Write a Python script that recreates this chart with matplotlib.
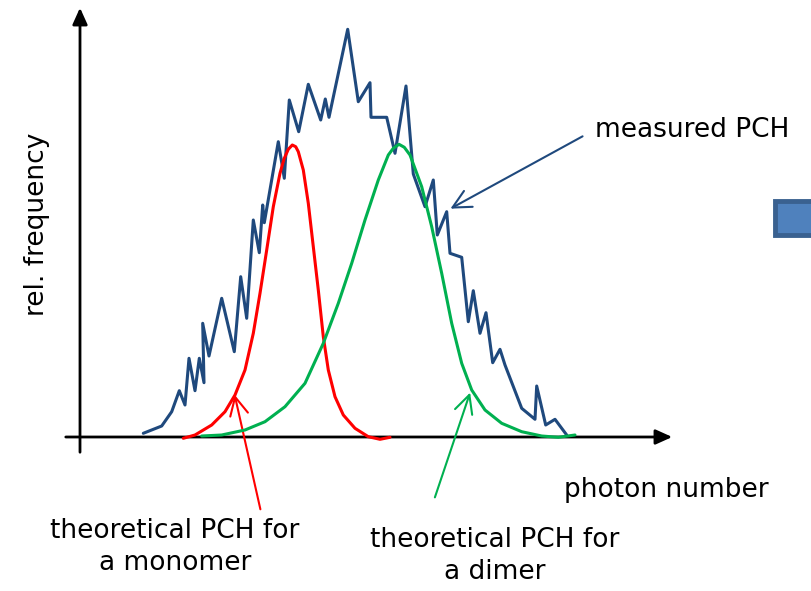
import matplotlib
matplotlib.use("Agg")
import matplotlib.pyplot as plt
from matplotlib.patches import Rectangle

# photon number (x) / rel. frequency (y), origin at the axis crossing
measured_x = [63.3, 81.7, 91.7, 99.3, 105, 109, 115, 119.3, 124, 122.7, 129, 141.7, 154.3,
              160.7, 166.7, 173.3, 179.3, 182.7, 184.3, 198.3, 204.3, 209.3, 218.7, 228.3,
              240.7, 245.3, 249, 267.7, 278.3, 290, 291, 306.7, 315, 326, 333.3, 345,
              353.3, 357.3, 366.7, 370, 381.7, 388.3, 393.3, 400, 406, 412.7, 420, 425,
              441.7, 455, 456.7, 465.7, 475, 486.7]
measured_y = [3.7, 11, 25.3, 46.3, 32, 78.7, 46.3, 78.7, 54.3, 113.7, 81, 138.7, 85.3,
              160.3, 118.7, 217, 184.3, 232, 214.3, 295.3, 258.7, 337, 305.3, 352.7,
              317, 338, 319.7, 407.7, 335.3, 354.3, 319.7, 319.7, 283.7, 351, 263, 230.3,
              257, 202, 225.3, 183.7, 179.7, 115.3, 146.3, 103.7, 124.3, 74.3, 87.7, 72,
              28.7, 17.7, 51, 12, 17.7, 2]

monomer_x = [103.3, 115, 131.7, 145, 155, 165, 173.3, 180, 186.7, 193.3, 200, 204, 208.3,
             212.3, 215.7, 218.3, 223.3, 228.3, 233.3, 238.3, 243.3, 248.3, 255, 263.3,
             275, 288.3, 300, 310]
monomer_y = [-1.3, 2, 12, 25.3, 42, 67, 103.7, 143.7, 187, 230.3, 263.7, 278, 287.7,
             292, 290.3, 285.3, 267, 233.7, 190.3, 147, 100.3, 67, 40.3, 22,
             8.7, 0.3, -2.3, -0.3]

dimer_x = [121.7, 141.7, 165, 185, 205, 225, 243.3, 258.3, 271.7, 285, 298.3, 308.3, 313.3,
           319, 324.3, 330, 341.7, 351.7, 361.7, 371.7, 381.7, 391.7, 405, 421.7, 441.7,
           461.7, 478.3, 495]
dimer_y = [1, 2, 7, 15.3, 30.3, 53.7, 93.7, 133.7, 173.7, 217, 257, 282, 288.7,
           292.7, 289.7, 282, 250.3, 210.3, 163.7, 113.7, 73.7, 47, 27, 13.7, 5.3,
           1, -0.3, 2]

plt.rcParams['font.family'] = ['DejaVu Sans']

fig = plt.figure(figsize=(8.12, 5.91), dpi=100)
ax = fig.add_axes([0, 0, 1, 1])
ax.set_xlim(-80, 732)
ax.set_ylim(-154, 437)
ax.axis('off')

# axes with arrow heads
ax.annotate("", xy=(0, 432), xytext=(0, -18),
            arrowprops=dict(arrowstyle="-|>,head_length=1.0,head_width=0.45", color="black", lw=2))
ax.annotate("", xy=(595, 0), xytext=(-17, 0),
            arrowprops=dict(arrowstyle="-|>,head_length=1.0,head_width=0.45", color="black", lw=2))

line_kw = dict(lw=2.2, solid_joinstyle="round", solid_capstyle="round")
ax.plot(measured_x, measured_y, color="#1f497d", zorder=3, **line_kw)
ax.plot(monomer_x, monomer_y, color="#ff0000", zorder=4, **line_kw)
ax.plot(dimer_x, dimer_y, color="#00b050", zorder=4, **line_kw)

fs = 19
ax.text(-43, 213, "rel. frequency", rotation=90, ha="center", va="center", fontsize=fs)
ax.text(515, 307, "measured PCH", ha="left", va="center", fontsize=fs)
ax.text(586, -53, "photon number", ha="center", va="center", fontsize=fs)
ax.text(95, -110, "theoretical PCH for\na monomer", ha="center", va="center",
        multialignment="center", fontsize=fs, linespacing=1.3)
ax.text(415, -119, "theoretical PCH for\na dimer", ha="center", va="center",
        multialignment="center", fontsize=fs, linespacing=1.3)

# pointer arrows
head = "->,head_length=1.3,head_width=0.65"
ax.annotate("", xy=(368, 227), xytext=(505, 302),
            arrowprops=dict(arrowstyle=head, color="#1f497d", lw=1.5))
ax.annotate("", xy=(154, 45), xytext=(181, -75),
            arrowprops=dict(arrowstyle=head, color="#ff0000", lw=1.5))
ax.annotate("", xy=(391, 47), xytext=(354, -63),
            arrowprops=dict(arrowstyle=head, color="#00b050", lw=1.5))

# cropped blue shape at the right edge
ax.add_patch(Rectangle((695, 202), 80, 34, facecolor="#4f81bd", edgecolor="#3a6190",
                       lw=3.5, clip_on=True))

fig.savefig("out.png", dpi=100)
